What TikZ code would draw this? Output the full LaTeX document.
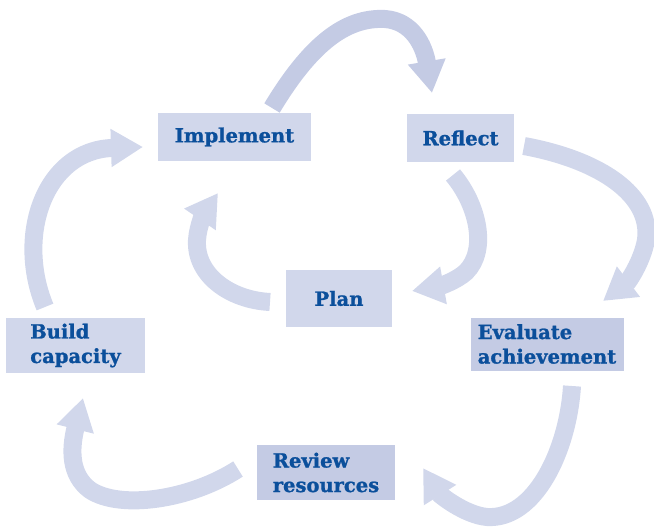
\documentclass[tikz,border=0pt]{standalone}
\usepackage{fontspec}
\setmainfont{DejaVu Serif}[BoldFeatures={FakeBold=1.2}]
\usetikzlibrary{arrows.meta}
\definecolor{boxlight}{HTML}{D1D7EB}
\definecolor{boxdark}{HTML}{C4CBE4}
\definecolor{labelblue}{HTML}{0B4F9B}

\begin{document}
\begin{tikzpicture}[x=1pt, y=-1pt,
    stage/.style={fill=boxlight, text=labelblue, align=left, inner sep=0pt,
      font=\bfseries\fontsize{19.5}{24.5}\selectfont},
    loop/.style={draw=boxlight, line width=18pt,
      -{Triangle[width=36pt,length=32pt]}}]

                \useasboundingbox (0,0) rectangle (654,527);

                \node[stage, minimum width=153pt, minimum height=48pt] (I) at (234.5,137) {Implement};
                \node[stage, minimum width=107pt, minimum height=48pt] (R) at (460.5,138) {Reflect};
                \node[stage, minimum width=106pt, minimum height=57pt] (P) at (339,298.5) {Plan};
                \node[stage, minimum width=139pt, minimum height=55pt] (B) at (75.5,345.5) {Build\\capacity};
                \node[stage, fill=boxdark, minimum width=153pt, minimum height=53pt] (E) at (547,344) {Evaluate\\achievement};
                \node[stage, fill=boxdark, minimum width=138pt, minimum height=55pt] (V) at (326,472.5) {Review\\resources};

                \coordinate (I-out) at (272,108);
                \coordinate (R-in) at (432,93);
                \coordinate (R-out) at (524,146);
                \coordinate (E-in) at (603,301);
                \coordinate (R-down) at (453,175);
                \coordinate (P-in) at (412,291);
                \coordinate (P-out) at (270,302);
                \coordinate (I-in) at (218,193);
                \coordinate (B-out) at (45,307);
                \coordinate (I-side) at (143,147);
                \coordinate (E-out) at (572,386);
                \coordinate (V-in) at (423,468);
                \coordinate (V-out) at (238,469);
                \coordinate (B-in) at (83,398);

                \draw [loop, draw=boxdark] (I-out) .. controls (310,45) and (345,17) .. (385,19)
                    .. controls (412,21) and (424,45) .. (R-in);
                \draw [loop] (R-out) .. controls (600,160) and (652,195) .. (646,240)
                    .. controls (642,262) and (628,282) .. (E-in);
                \draw [loop] (R-down) .. controls (478,205) and (488,250) .. (466,272)
                    .. controls (456,281) and (440,286) .. (P-in);
                \draw [loop] (P-out) .. controls (230,300) and (195,275) .. (197,240)
                    .. controls (198,225) and (205,212) .. (I-in);
                \draw [loop] (B-out) .. controls (15,235) and (45,150) .. (I-side);
                \draw [loop] (E-out) .. controls (568,450) and (535,520) .. (487,517)
                    .. controls (465,515) and (440,495) .. (V-in);
                \draw [loop] (V-out) .. controls (190,500) and (120,510) .. (90,490)
                    .. controls (70,475) and (70,450) .. (B-in);

            \end{tikzpicture}
\end{document}
